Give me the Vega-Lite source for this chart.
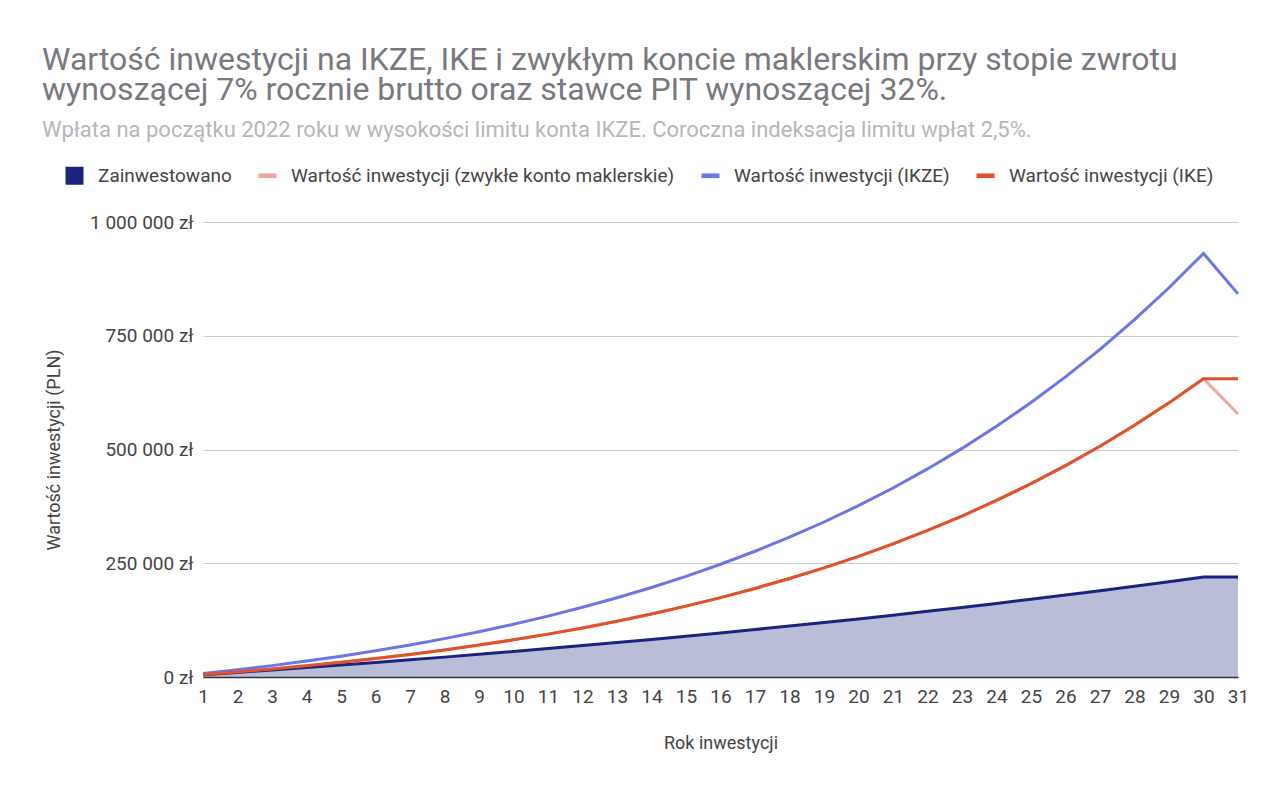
{
  "$schema": "https://vega.github.io/schema/vega-lite/v6.json",
  "width": 1035,
  "height": 455,
  "autosize": "none",
  "padding": {"left": 203, "top": 222, "right": 42, "bottom": 119},
  "background": "white",
  "title": {
    "text": [
      "Wartość inwestycji na IKZE, IKE i zwykłym koncie maklerskim przy stopie zwrotu",
      "wynoszącej 7% rocznie brutto oraz stawce PIT wynoszącej 32%."
    ],
    "subtitle": "Wpłata na początku 2022 roku w wysokości limitu konta IKZE. Coroczna indeksacja limitu wpłat 2,5%.",
    "anchor": "start",
    "frame": "group",
    "dx": -161,
    "offset": 24,
    "font": "Roboto",
    "fontSize": 32,
    "fontWeight": "normal",
    "color": "#78787e",
    "lineHeight": 30,
    "subtitleFont": "Roboto",
    "subtitleFontSize": 22,
    "subtitleColor": "#b6b6ba",
    "subtitlePadding": 13
  },
  "data": {
    "values": [
      {"rok": 1, "zainw": 5000, "zwykle": 5350, "ikze": 7597, "ike": 5350},
      {"rok": 2, "zainw": 10125, "zwykle": 11208, "ikze": 15915, "ike": 11208},
      {"rok": 3, "zainw": 15378, "zwykle": 17613, "ikze": 25010, "ike": 17613},
      {"rok": 4, "zainw": 20763, "zwykle": 24607, "ikze": 34942, "ike": 24607},
      {"rok": 5, "zainw": 26282, "zwykle": 32235, "ikze": 45774, "ike": 32235},
      {"rok": 6, "zainw": 31939, "zwykle": 40544, "ikze": 57572, "ike": 40544},
      {"rok": 7, "zainw": 37737, "zwykle": 49586, "ikze": 70412, "ike": 49586},
      {"rok": 8, "zainw": 43681, "zwykle": 59416, "ikze": 84371, "ike": 59416},
      {"rok": 9, "zainw": 49773, "zwykle": 70094, "ikze": 99533, "ike": 70094},
      {"rok": 10, "zainw": 56017, "zwykle": 81682, "ikze": 115988, "ike": 81682},
      {"rok": 11, "zainw": 62417, "zwykle": 94248, "ikze": 133832, "ike": 94248},
      {"rok": 12, "zainw": 68978, "zwykle": 107865, "ikze": 153168, "ike": 107865},
      {"rok": 13, "zainw": 75702, "zwykle": 122610, "ikze": 174106, "ike": 122610},
      {"rok": 14, "zainw": 82595, "zwykle": 138568, "ikze": 196767, "ike": 138568},
      {"rok": 15, "zainw": 89660, "zwykle": 155827, "ikze": 221274, "ike": 155827},
      {"rok": 16, "zainw": 96901, "zwykle": 174483, "ikze": 247766, "ike": 174483},
      {"rok": 17, "zainw": 104324, "zwykle": 194639, "ikze": 276387, "ike": 194639},
      {"rok": 18, "zainw": 111932, "zwykle": 216404, "ikze": 307294, "ike": 216404},
      {"rok": 19, "zainw": 119730, "zwykle": 239896, "ikze": 340652, "ike": 239896},
      {"rok": 20, "zainw": 127723, "zwykle": 265241, "ikze": 376642, "ike": 265241},
      {"rok": 21, "zainw": 135917, "zwykle": 292574, "ikze": 415455, "ike": 292574},
      {"rok": 22, "zainw": 144315, "zwykle": 322040, "ikze": 457297, "ike": 322040},
      {"rok": 23, "zainw": 152922, "zwykle": 353793, "ikze": 502386, "ike": 353793},
      {"rok": 24, "zainw": 161745, "zwykle": 387999, "ikze": 550959, "ike": 387999},
      {"rok": 25, "zainw": 170789, "zwykle": 424836, "ikze": 603267, "ike": 424836},
      {"rok": 26, "zainw": 180059, "zwykle": 464493, "ikze": 659580, "ike": 464493},
      {"rok": 27, "zainw": 189560, "zwykle": 507174, "ikze": 720187, "ike": 507174},
      {"rok": 28, "zainw": 199299, "zwykle": 553097, "ikze": 785398, "ike": 553097},
      {"rok": 29, "zainw": 209282, "zwykle": 602495, "ikze": 855543, "ike": 602495},
      {"rok": 30, "zainw": 219514, "zwykle": 655618, "ikze": 930978, "ike": 655618},
      {"rok": 31, "zainw": 219514, "zwykle": 578000, "ikze": 842000, "ike": 655618}
    ]
  },
  "transform": [
    {"fold": ["zainw", "zwykle", "ikze", "ike"], "as": ["seria", "wartosc"]}
  ],
  "encoding": {
    "x": {
      "field": "rok",
      "type": "quantitative",
      "title": "Rok inwestycji",
      "scale": {"domain": [1, 31], "nice": false, "zero": false},
      "axis": {
        "values": [1, 2, 3, 4, 5, 6, 7, 8, 9, 10, 11, 12, 13, 14, 15, 16, 17, 18, 19, 20, 21, 22, 23, 24, 25, 26, 27, 28, 29, 30, 31],
        "format": "d",
        "grid": false,
        "ticks": false,
        "domainColor": "#333333",
        "domainWidth": 1.5,
        "labelPadding": 10,
        "labelFlush": false,
        "titlePadding": 28
      }
    },
    "y": {
      "field": "wartosc",
      "type": "quantitative",
      "title": "Wartość inwestycji (PLN)",
      "scale": {"domain": [0, 1000000], "nice": false},
      "axis": {
        "values": [0, 250000, 500000, 750000, 1000000],
        "format": ",d",
        "labelExpr": "replace(replace(datum.label, ',', ' '), ',', ' ') + ' zł'",
        "domain": false,
        "ticks": false,
        "gridColor": "#cccccc",
        "labelPadding": 10,
        "titlePadding": 26
      }
    }
  },
  "layer": [
    {
      "transform": [{"filter": "datum.seria === 'zainw'"}],
      "mark": {"type": "area", "color": "#1a237e", "opacity": 0.3}
    },
    {
      "transform": [{"filter": "datum.seria === 'zwykle'"}],
      "mark": {"type": "line", "strokeWidth": 3},
      "encoding": {"color": {"field": "seria", "type": "nominal"}}
    },
    {
      "transform": [{"filter": "datum.seria !== 'zwykle'"}],
      "mark": {"type": "line", "strokeWidth": 3},
      "encoding": {
        "color": {
          "field": "seria",
          "type": "nominal",
          "scale": {
            "domain": ["zainw", "zwykle", "ikze", "ike"],
            "range": ["#1a237e", "#eea79b", "#6b76e6", "#e0522a"]
          },
          "legend": {
            "title": null,
            "orient": "none",
            "legendX": -138,
            "legendY": -56,
            "direction": "horizontal",
            "columns": 4,
            "columnPadding": 26,
            "padding": 0,
            "labelFont": "Roboto",
            "labelFontSize": 19,
            "labelColor": "#444444",
            "labelOffset": 14,
            "labelLimit": 0,
            "symbolSize": 324,
            "symbolType": "square",
            "labelExpr": "datum.value === 'zainw' ? 'Zainwestowano' : datum.value === 'zwykle' ? 'Wartość inwestycji (zwykłe konto maklerskie)' : datum.value === 'ikze' ? 'Wartość inwestycji (IKZE)' : 'Wartość inwestycji (IKE)'",
            "encode": {
              "symbols": {
                "update": {
                  "shape": {"signal": "datum.value === 'zainw' ? 'square' : 'M-1,-0.26H1V0.26H-1Z'"},
                  "fill": {"scale": "color", "field": "value"},
                  "strokeWidth": {"value": 0}
                }
              }
            }
          }
        }
      }
    }
  ],
  "config": {
    "font": "Roboto",
    "view": {"stroke": null},
    "axis": {
      "labelFont": "Roboto",
      "labelFontSize": 19,
      "labelColor": "#444444",
      "titleFont": "Roboto",
      "titleFontSize": 18,
      "titleFontWeight": "normal",
      "titleColor": "#444444"
    }
  }
}
